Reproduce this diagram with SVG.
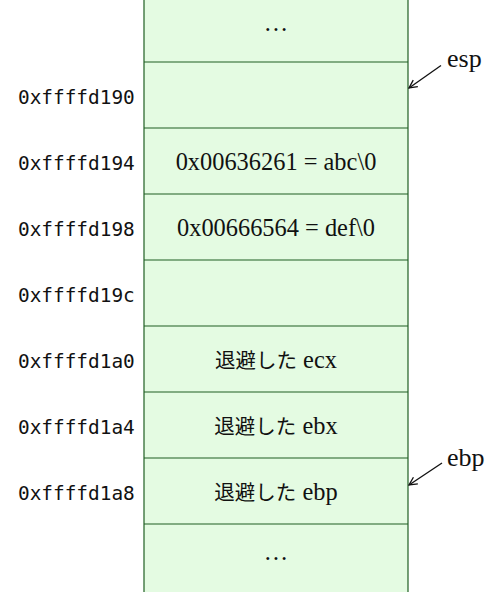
<svg xmlns="http://www.w3.org/2000/svg" width="504" height="592" viewBox="0 0 504 592">
<style>
.cell{fill:#e4fbe2;stroke:none}
.ln{stroke:#1f5e22;stroke-width:1.2;fill:none}
.v{font-family:"Liberation Serif","Noto Sans CJK JP",serif;font-size:24.4px;fill:#111;text-anchor:middle}
.j{font-family:"Noto Sans CJK JP",serif;font-size:20.5px}
.a{font-family:"DejaVu Sans Mono","Liberation Mono",monospace;font-size:19.4px;fill:#111}
.p{font-family:"Liberation Serif",serif;font-size:26px;fill:#111}
.arr{stroke:#111;stroke-width:1.3;fill:none}
</style>
<defs>
<marker id="ah" viewBox="0 0 10 10" refX="9" refY="5" markerWidth="10" markerHeight="10" markerUnits="userSpaceOnUse" orient="auto">
<path d="M1,1 L9,5 L1,9" fill="none" stroke="#111" stroke-width="1.3"/>
</marker>
</defs>
<rect class="cell" x="144" y="0" width="264" height="592"/>
<g id="stack">
<line class="ln" x1="144" y1="0" x2="144" y2="592"/>
<line class="ln" x1="408" y1="0" x2="408" y2="592"/>
<line class="ln" x1="144" y1="62" x2="408" y2="62"/>
<line class="ln" x1="144" y1="128" x2="408" y2="128"/>
<line class="ln" x1="144" y1="194" x2="408" y2="194"/>
<line class="ln" x1="144" y1="260" x2="408" y2="260"/>
<line class="ln" x1="144" y1="326" x2="408" y2="326"/>
<line class="ln" x1="144" y1="392" x2="408" y2="392"/>
<line class="ln" x1="144" y1="458" x2="408" y2="458"/>
<line class="ln" x1="144" y1="524" x2="408" y2="524"/>
</g>
<g id="cell0"><text class="v" x="276" y="31">…</text></g>
<g id="cell1"><text class="a" x="18" y="104">0xffffd190</text></g>
<g id="cell2"><text class="a" x="18" y="170">0xffffd194</text><text class="v" x="276" y="170">0x00636261 = abc\0</text></g>
<g id="cell3"><text class="a" x="18" y="236">0xffffd198</text><text class="v" x="276" y="236">0x00666564 = def\0</text></g>
<g id="cell4"><text class="a" x="18" y="302">0xffffd19c</text></g>
<g id="cell5"><text class="a" x="18" y="368">0xffffd1a0</text><text class="v" x="276" y="368"><tspan class="j">退避した</tspan> ecx</text></g>
<g id="cell6"><text class="a" x="18" y="434">0xffffd1a4</text><text class="v" x="276" y="434"><tspan class="j">退避した</tspan> ebx</text></g>
<g id="cell7"><text class="a" x="18" y="500">0xffffd1a8</text><text class="v" x="276" y="500"><tspan class="j">退避した</tspan> ebp</text></g>
<g id="cell8"><text class="v" x="276" y="560">…</text></g>
<g id="esp"><text class="p" x="447" y="67">esp</text></g>
<g id="ebp"><text class="p" x="447" y="466">ebp</text></g>
<g id="connectors">
<line class="arr" x1="441" y1="65.5" x2="409" y2="88" marker-end="url(#ah)"/>
<line class="arr" x1="442" y1="463" x2="409" y2="485" marker-end="url(#ah)"/>
</g>
</svg>
